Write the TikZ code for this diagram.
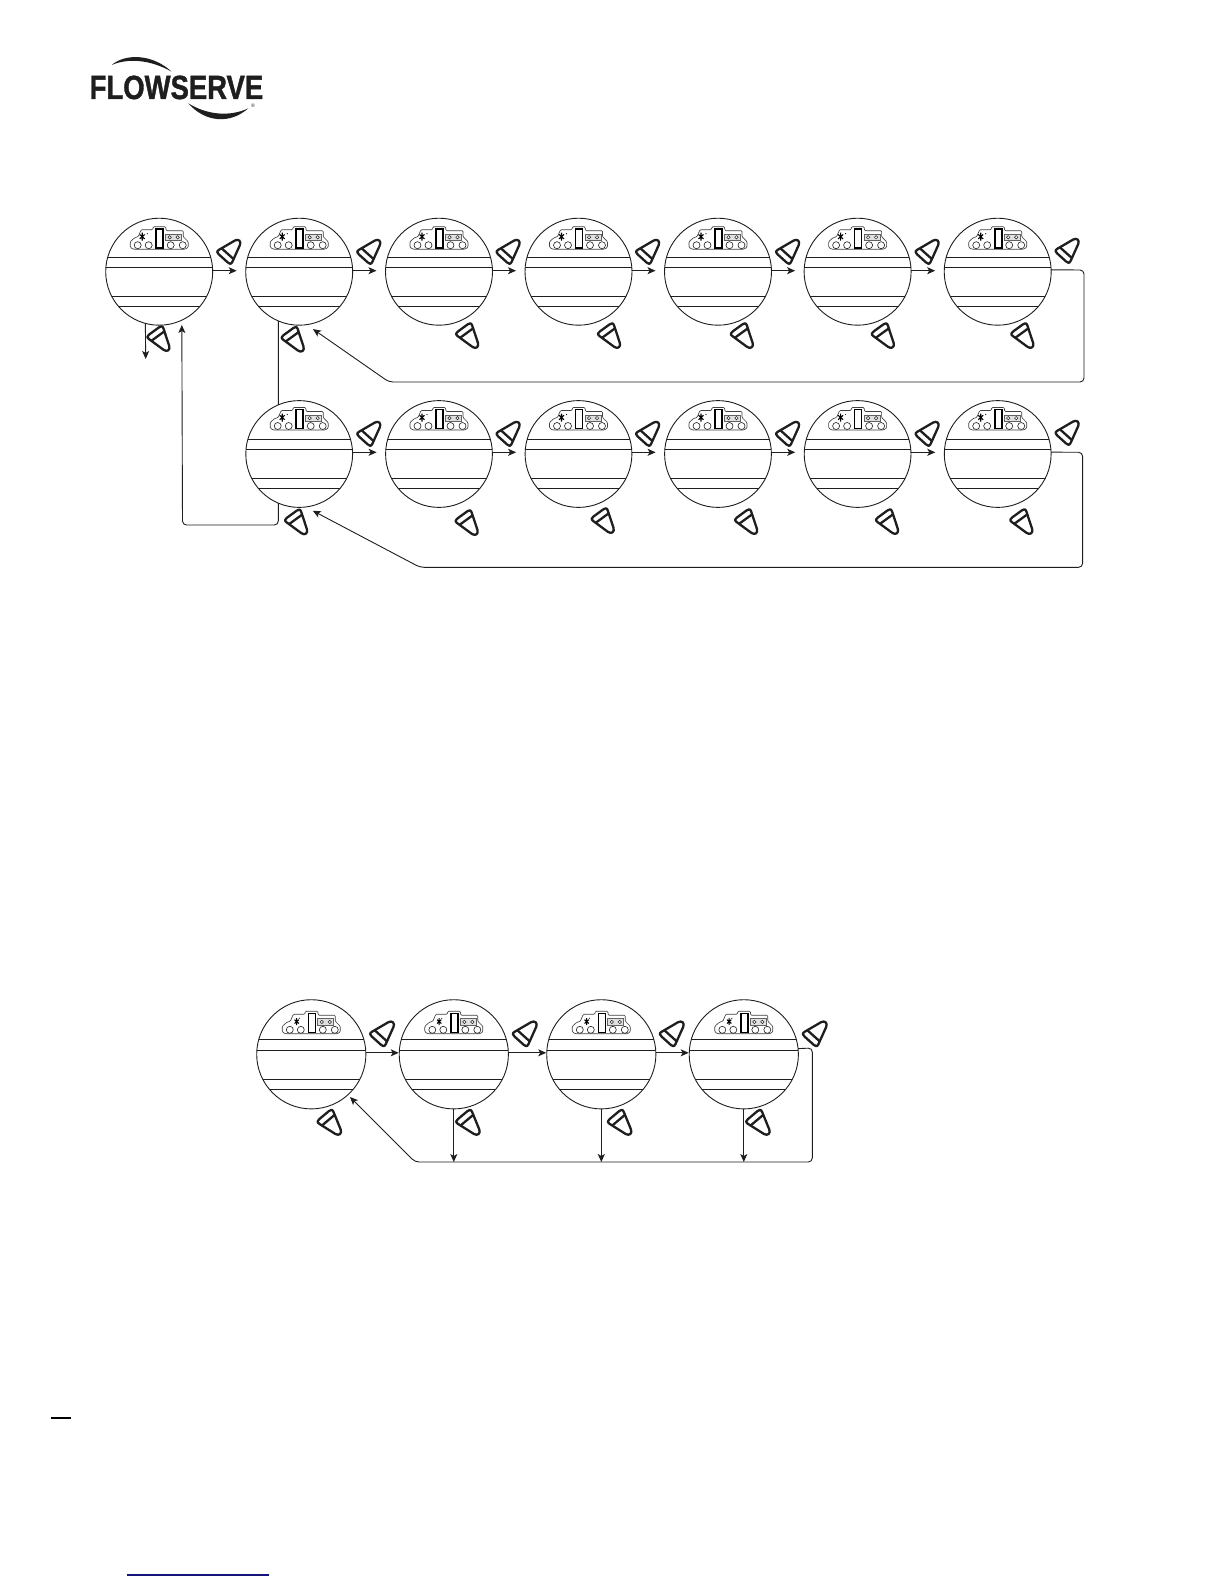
\documentclass[tikz,border=0pt]{standalone}
\usepackage{graphicx}
\usepackage{fontspec}
\setmainfont{Liberation Sans}
\newfontfamily\logofont[FakeBold=1.3]{Liberation Sans Bold}
\usetikzlibrary{arrows.meta}
\definecolor{ink}{HTML}{1E1E1E}
\definecolor{navyline}{HTML}{14147A}
\tikzset{
  x=1pt,y=-1pt,
  dialc/.style={circle,draw=ink,fill=white,line width=.9pt,inner sep=0pt,outer sep=0pt},
  chord/.style={draw=ink,line width=1pt},
  link/.style={draw=ink,line width=.9pt,rounded corners=4pt},
  tip/.style={-{Stealth[length=8pt,width=7pt,inset=2pt]}},
  cone/.pic={
    \draw[ink,line width=2.3pt,fill=white,line join=round]
      (-6.5,-9) -- (11,-3.4) .. controls (15,-2) and (15,2) .. (11,3.4) -- (-6.5,9)
      .. controls (-9.5,10) and (-10,8) .. (-10,6) -- (-10,-6) .. controls (-10,-8) and (-9.5,-10) .. (-6.5,-9) -- cycle;
    \draw[ink,line width=2.3pt] (-3.6,-8) -- (-3.6,8);
  },
  keypad/.pic={
    \draw[ink!85,line width=.65pt,rounded corners=1pt,fill=white]
      (-26,10.5) -- (-29,8.5) -- (-29,3) -- (-24.5,-1) -- (-21,-2) -- (-18,-9) -- (-6.5,-9) -- (-6,-12) -- (6.5,-12) -- (7,-8) -- (24,-8) -- (24,-2) -- (29,3) -- (29,8.5) -- (26,10.5) -- cycle;
    \foreach \kx in {-21.5,-10.5,11.5,23.5} \draw[ink,line width=.6pt,fill=white] (\kx,6.5) circle (3.5);
    \draw[black,line width=1.6pt,fill=white] (-3,-10) rectangle (4,9);
    \draw[ink!70,line width=.7pt,fill=black!12] (6.5,-4.5) rectangle (22.5,1.6);
    \foreach \kx in {10.5,18.5} \draw[ink,line width=.5pt,fill=white] (\kx,-1.4) circle (1.7);
    \fill[black] (-12,-5) circle (.6);
  }
}
% name, cx, cy, radius, four chord offsets, keypad y offset
\newcommand\dial[9]{%
  \node[dialc,minimum size=#4*2pt] (#1) at (#2,#3) {};
  \begin{scope}[shift={(#2,#3)}]
    \begin{scope}
      \clip (0,0) circle [radius=#4];
      \foreach \cy in {#5,#6,#7,#8} \draw[chord] (-60,\cy) -- (60,\cy);
    \end{scope}
    \begin{scope}[shift={(0,#9)},scale=\keypadscale]
      \pic {keypad};
      \draw[black,line width=1.1pt] (-17,-6) -- (-17,2) (-19.5,-4.2) -- (-14.5,0.2) (-19.5,0.2) -- (-14.5,-4.2);
    \end{scope}
  \end{scope}%
}
\newcommand\keypadscale{1}
\newcommand\rowarrow[4]{\draw[link,tip,shorten >=#4pt] ([yshift=#3pt]#1.east) -- ([yshift=#3pt]#2.west);}
\begin{document}
\begin{tikzpicture}
\useasboundingbox (0,0) rectangle (1224,1584);
\fill[white] (0,0) rectangle (1224,1584);

% logo
\node[anchor=base west,inner sep=0pt,text=ink] (logo) at (89.5,99) {\scalebox{0.82}[1]{\fontsize{33.5pt}{33.5pt}\selectfont\logofont FLOWSERVE}};
\fill[ink] (111.7,65) .. controls (125,53.5) and (152,53.5) .. (171.7,71.7) .. controls (150,59.5) and (128,58) .. (111.7,65) -- cycle;
\fill[ink] (188.3,103.3) .. controls (205,122.5) and (230,124.5) .. (248.3,108.3) .. controls (230,117) and (207,115) .. (188.3,103.3) -- cycle;
\node[inner sep=0pt,text=ink,font=\fontsize{5pt}{5pt}\selectfont] (reg) at (253,106) {®};

% row one
\dial{a1}{159.2}{271.7}{53.5}{-14.4}{-4.4}{24.6}{34.6}{-33}
\dial{a2}{299.2}{271.7}{53.5}{-14.4}{-4.4}{24.6}{34.6}{-33}
\dial{a3}{439}{271.7}{53.5}{-14.4}{-4.4}{24.6}{34.6}{-33}
\dial{a4}{578.5}{271.7}{53.5}{-14.4}{-4.4}{24.6}{34.6}{-33}
\dial{a5}{718}{271.7}{53.5}{-14.4}{-4.4}{24.6}{34.6}{-33}
\dial{a6}{857.6}{271.7}{53.5}{-14.4}{-4.4}{24.6}{34.6}{-33}
\dial{a7}{997.7}{271.7}{53.5}{-14.4}{-4.4}{24.6}{34.6}{-33}
% row two
\dial{b2}{299.2}{454}{53.4}{-14.7}{-4.7}{24.3}{34.3}{-34.5}
\dial{b3}{439}{454}{53.4}{-14.7}{-4.7}{24.3}{34.3}{-34.5}
\dial{b4}{578.5}{454}{53.4}{-14.7}{-4.7}{24.3}{34.3}{-34.5}
\dial{b5}{718}{454}{53.4}{-14.7}{-4.7}{24.3}{34.3}{-34.5}
\dial{b6}{857.6}{454}{53.4}{-14.7}{-4.7}{24.3}{34.3}{-34.5}
\dial{b7}{997.7}{454}{53.4}{-14.7}{-4.7}{24.3}{34.3}{-34.5}
% row three
\renewcommand\keypadscale{0.86}
\dial{c1}{311.3}{1054.3}{54.6}{-15}{-3.6}{25}{35}{-31}
\dial{c2}{453.8}{1054.3}{54.6}{-15}{-3.6}{25}{35}{-31}
\dial{c3}{601.3}{1054.3}{54.6}{-15}{-3.6}{25}{35}{-31}
\dial{c4}{743.8}{1054.3}{54.6}{-15}{-3.6}{25}{35}{-31}

% free ends and corners
\coordinate (a1out) at (145.7,359);
\coordinate (leftc) at (182.5,525);
\coordinate (downc) at (278.3,525);
\coordinate (aR) at (1084,270);
\coordinate (aRb) at (1084,382);
\coordinate (aLb) at (389,382);
\coordinate (bR) at (1082.6,452.3);
\coordinate (bRb) at (1082.6,567.3);
\coordinate (bLb) at (420,567.3);
\coordinate (cR) at (812.3,1048);
\coordinate (cRb) at (812.3,1162);
\coordinate (cLb) at (415,1162);

% forward arrows
\rowarrow{a1}{a2}{1}{9}\rowarrow{a2}{a3}{1}{9}\rowarrow{a3}{a4}{1}{9}\rowarrow{a4}{a5}{1}{9}\rowarrow{a5}{a6}{1}{9}\rowarrow{a6}{a7}{1}{9}
\rowarrow{b2}{b3}{1.7}{9}\rowarrow{b3}{b4}{1.7}{9}\rowarrow{b4}{b5}{1.7}{9}\rowarrow{b5}{b6}{1.7}{9}\rowarrow{b6}{b7}{1.7}{9}
\rowarrow{c1}{c2}{1.5}{0.5}\rowarrow{c2}{c3}{1.5}{0.5}\rowarrow{c3}{c4}{1.5}{0.5}

% loops
\draw[link,tip,shorten >=7.7pt] (a7.2) -- (aR) -- (aRb) -- (aLb) -- (a2.278);
\draw[link,tip,shorten >=8pt] (b7.2) -- (bR) -- (bRb) -- (bLb) -- (b2.277.5);
\draw[link,tip,shorten >=3pt] (c4.6.3) -- (cR) -- (cRb) -- (cLb) -- (c1.312.2);
\draw[link] (a2.247) -- (b2.113);
\draw[link,tip,shorten >=4.8pt] (b2.247) -- (downc) -- (leftc) -- (a1.295.6);
\draw[link,tip] (a1.255.4) -- (a1out);
\draw[link,tip] (c2.south) -- (c2.south |- cRb);
\draw[link,tip,line width=1.4pt] (c3.south) -- (c3.south |- cRb);
\draw[link,tip] (c4.south) -- (c4.south |- cRb);

% push-button marks
\foreach \px in {230,370,509.3,648.8,788.8,928.3} \pic[rotate=48] at (\px,251) {cone};
\pic[rotate=48] at (1068.3,250) {cone};
\foreach \px/\py in {160/339,294.3/339.7,468.7/336,610.6/336,743.4/336,884.4/336,1023.9/336} \pic[rotate=-54] at (\px,\py) {cone};
\foreach \px in {370,509.3,648.8,788.8,928.3} \pic[rotate=48] at (\px,433) {cone};
\pic[rotate=48] at (1068.3,432) {cone};
\foreach \px/\py in {297.7/522.3,468.2/523,604.3/521,747.7/522,888.6/522,1022.9/522} \pic[rotate=-54] at (\px,\py) {cone};
\foreach \px in {383.3,526,673,816} \pic[scale=1.03,rotate=48] at (\px,1033) {cone};
\foreach \px in {330.7,469.3,621,759.3} \pic[scale=1.03,rotate=-50] at (\px,1123) {cone};

% page rules
\coordinate (ruleA) at (51,1418);
\coordinate (ruleB) at (71,1418);
\draw[black,line width=1.2pt] (ruleA) -- (ruleB);
\coordinate (ruleC) at (127,1575);
\coordinate (ruleD) at (269,1575);
\draw[navyline,line width=1.2pt] (ruleC) -- (ruleD);
\end{tikzpicture}
\end{document}
